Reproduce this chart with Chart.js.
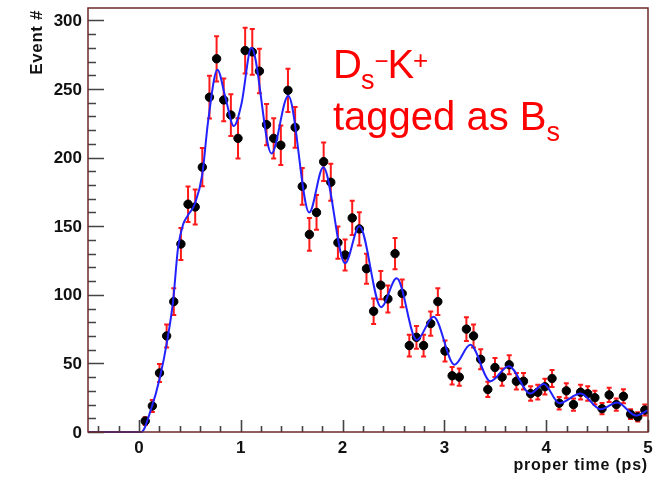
<!DOCTYPE html>
<html>
<head>
<meta charset="utf-8">
<script src="https://cdn.jsdelivr.net/npm/chart.js@4.4.0/dist/chart.umd.min.js"></script>
<style>
  html, body { margin: 0; padding: 0; background: #fff; }
</style>
</head>
<body>
<canvas id="decayChart" width="657" height="477"></canvas>
<script>
// proper-time binning (ps)
var firstBinCenter = 0.062;
var binWidth = 0.0701;

// events per bin
var eventCounts = [
  8, 19, 43, 70, 95, 137, 166, 164, 193, 244,
  272, 242, 231, 214, 278, 277, 263, 224, 214, 209,
  249, 222, 179, 144, 160, 197, 182, 138, 129, 156,
  148, 119, 88, 107, 97, 130, 101, 63, 69, 63,
  79, 95, 59, 41, 40, 75, 70, 53, 31, 47,
  40, 49, 37, 37, 28, 29, 33, 39, 21, 30,
  20, 29, 28, 25, 17, 27, 20, 26, 13, 11,
  16
];

// fitted decay curve with oscillation
var fitTime = [
  -0.5, 0.023, 0.121, 0.204, 0.279, 0.335, 0.384, 0.433, 0.482, 0.548,
  0.623, 0.679, 0.771, 0.849, 0.932, 1.007, 1.105, 1.302, 1.467, 1.673,
  1.811, 2.025, 2.165, 2.379, 2.532, 2.729, 2.894, 3.100, 3.255, 3.452,
  3.632, 3.845, 3.976, 4.129, 4.338, 4.534, 4.698, 4.882, 5.0
];
var fitValue = [
  0, 0, 17, 39, 67, 95, 134, 151, 158, 166,
  188, 226, 264, 244, 223, 239, 280, 203, 245, 160,
  193, 123, 150, 91, 112, 67, 84, 49, 63.5, 37,
  48, 28, 35, 21, 28, 16.5, 21.5, 12, 16
];

var xTicks = [0, 1, 2, 3, 4, 5];
var yTicks = [0, 50, 100, 150, 200, 250, 300];

var dataPoints = eventCounts.map(function(n, i) {
  return { x: firstBinCenter + i * binWidth, y: n };
});
var fitPoints = fitTime.map(function(t, i) {
  return { x: t, y: fitValue[i] };
});

var frameColor = '#6a2a2a';
var labelFace = '"Liberation Sans", Arial, sans-serif';

// vertical Poisson error bars behind the markers
var errorBars = {
  id: 'errorBars',
  beforeDatasetsDraw: function(chart) {
    var ctx = chart.ctx;
    var xs = chart.scales.x, ys = chart.scales.y;
    ctx.save();
    ctx.strokeStyle = '#ff1a1a';
    ctx.lineWidth = 2;
    dataPoints.forEach(function(p) {
      var err = Math.sqrt(p.y);
      var px = xs.getPixelForValue(p.x);
      var top = ys.getPixelForValue(p.y + err);
      var bot = ys.getPixelForValue(Math.max(p.y - err, 0));
      ctx.beginPath();
      ctx.moveTo(px, top); ctx.lineTo(px, bot);
      ctx.moveTo(px - 2.5, top); ctx.lineTo(px + 2.5, top);
      ctx.moveTo(px - 2.5, bot); ctx.lineTo(px + 2.5, bot);
      ctx.stroke();
    });
    ctx.restore();
  }
};

// frame, inward ticks and axis titles
var rootFrame = {
  id: 'rootFrame',
  afterDraw: function(chart) {
    var ctx = chart.ctx, a = chart.chartArea;
    var xs = chart.scales.x, ys = chart.scales.y;
    ctx.save();

    ctx.strokeStyle = '#444';
    ctx.lineWidth = 1.6;
    ctx.beginPath();
    for (var v = 0; v <= 300; v += 10) {
      var py = Math.round(ys.getPixelForValue(v)) + 0.5;
      var len = (v % 50 === 0) ? 16 : 8;
      ctx.moveTo(a.left, py); ctx.lineTo(a.left + len, py);
    }
    for (var k = -2; k <= 25; k++) {
      var t = k * 0.2;
      var px = Math.round(xs.getPixelForValue(t)) + 0.5;
      var lenx = (k % 5 === 0) ? 12 : 6;
      ctx.moveTo(px, a.bottom); ctx.lineTo(px, a.bottom - lenx);
    }
    ctx.stroke();

    ctx.strokeStyle = frameColor;
    ctx.lineWidth = 1.5;
    ctx.strokeRect(a.left, a.top, a.right - a.left, a.bottom - a.top);

    ctx.fillStyle = '#111';
    ctx.font = 'bold 17px ' + labelFace;
    ctx.textAlign = 'right';
    ctx.textBaseline = 'middle';
    yTicks.forEach(function(v) {
      ctx.fillText(String(v), a.left - 6, ys.getPixelForValue(v) + 1);
    });
    ctx.textAlign = 'center';
    ctx.textBaseline = 'top';
    xTicks.forEach(function(v) {
      ctx.fillText(String(v), xs.getPixelForValue(v), a.bottom + 8);
    });

    ctx.font = 'bold 16px ' + labelFace;
    ctx.letterSpacing = '0.8px';
    ctx.textAlign = 'right';
    ctx.textBaseline = 'alphabetic';
    ctx.fillText('proper time (ps)', a.right, 470);

    ctx.font = 'bold 17px ' + labelFace;
    ctx.letterSpacing = '0.6px';
    ctx.translate(42, 10);
    ctx.rotate(-Math.PI / 2);
    ctx.fillText('Event #', 0, 0);
    ctx.restore();
  }
};

// red channel label with sub/superscripts
var channelLabel = {
  id: 'channelLabel',
  afterDraw: function(chart) {
    var ctx = chart.ctx;
    function put(text, size, x, y) {
      ctx.font = size + 'px ' + labelFace;
      ctx.fillText(text, x, y);
      return x + ctx.measureText(text).width;
    }
    ctx.save();
    ctx.fillStyle = '#ff0000';
    ctx.textBaseline = 'alphabetic';
    ctx.textAlign = 'left';
    var x = put('D', 40, 333, 78);
    x = put('s', 27, x - 1, 89);
    x = put('\u2212', 24, x, 69);
    x = put('K', 40, x - 1, 78);
    put('+', 26, x - 1, 69);
    x = put('tagged as B', 40, 333, 130);
    put('s', 27, x, 141);
    ctx.restore();
  }
};

var chart = new Chart(document.getElementById('decayChart').getContext('2d'), {
  type: 'scatter',
  data: {
    datasets: [
      {
        label: 'fit',
        type: 'line',
        data: fitPoints,
        borderColor: '#2222ff',
        borderWidth: 2,
        pointRadius: 0,
        cubicInterpolationMode: 'monotone',
        fill: false,
        clip: 3,
        order: 0
      },
      {
        label: 'data',
        data: dataPoints,
        backgroundColor: '#000',
        borderColor: '#000',
        pointRadius: 4.2,
        order: 1
      }
    ]
  },
  options: {
    responsive: false,
    animation: false,
    events: [],
    layout: { padding: { left: 88, right: 9, top: 8, bottom: 45 } },
    plugins: { legend: { display: false }, tooltip: { enabled: false } },
    scales: {
      x: { type: 'linear', min: -0.5, max: 5, display: false },
      y: { min: 0, max: 309, display: false }
    }
  },
  plugins: [errorBars, rootFrame, channelLabel]
});
</script>
</body>
</html>
